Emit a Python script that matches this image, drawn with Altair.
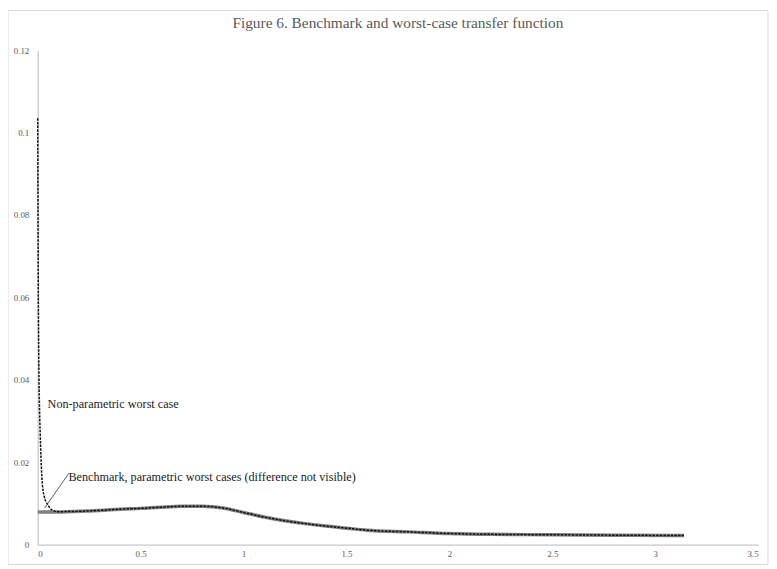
import altair as alt
import pandas as pd

# Benchmark (and parametric worst cases, visually identical)
bench_x = [0.0, 0.1, 0.2, 0.3, 0.4, 0.5, 0.6, 0.7, 0.8, 0.9, 1.0, 1.1, 1.2, 1.3, 1.4,
           1.5, 1.6, 1.8, 2.0, 2.2, 2.5, 2.8, 3.14]
bench_y = [0.0079, 0.0079, 0.0081, 0.0083, 0.0086, 0.0088, 0.0091, 0.0093, 0.0093, 0.0089,
           0.0078, 0.0067, 0.0058, 0.0051, 0.0045, 0.0040, 0.0035, 0.0031, 0.0027, 0.0025,
           0.0024, 0.0023, 0.0022]

# Non-parametric worst case near zero frequency (then follows benchmark)
np_x_low = [0.0, 0.001, 0.003, 0.005, 0.008, 0.012, 0.016, 0.02, 0.03, 0.05, 0.07, 0.1]
np_y_low = [0.1035, 0.085, 0.060, 0.046, 0.035, 0.027, 0.021, 0.0165, 0.0120, 0.0096, 0.0084, 0.0080]

x_ticks = [0, 0.5, 1, 1.5, 2, 2.5, 3, 3.5]
y_ticks = [0, 0.02, 0.04, 0.06, 0.08, 0.1, 0.12]

title = "Figure 6. Benchmark and worst-case transfer function"
label_np = "Non-parametric worst case"
label_bench = "Benchmark, parametric worst cases (difference not visible)"
label_np_pos = (0.048, 0.0341)
label_bench_pos = (0.149, 0.0164)
leader = (0.151, 0.0173, 0.034, 0.0089)

bench_df = pd.DataFrame({"x": bench_x, "y": bench_y})
np_df = pd.DataFrame({
    "x": np_x_low + [v for v in bench_x if v > 0.1],
    "y": np_y_low + [b for v, b in zip(bench_x, bench_y) if v > 0.1],
})
text_df = pd.DataFrame({
    "x": [label_np_pos[0], label_bench_pos[0]],
    "y": [label_np_pos[1], label_bench_pos[1]],
    "t": [label_np, label_bench],
})
leader_df = pd.DataFrame({"x": [leader[0]], "y": [leader[1]], "x2": [leader[2]], "y2": [leader[3]]})

W, H = 727, 499
FONT = "Liberation Serif"

xs = alt.Scale(domain=[0, 3.5], nice=False)
ys = alt.Scale(domain=[0, 0.12], nice=False)

xaxis = alt.Axis(values=x_ticks, format="~g", title=None, grid=False, ticks=False,
                 labelPadding=5, labelFont=FONT, labelFontSize=9, labelColor="#595959",
                 domainColor="#c8c8c8", domainWidth=1.3)
yaxis = alt.Axis(values=y_ticks, format="~g", title=None, grid=False, ticks=False,
                 labelPadding=9, labelFont=FONT, labelFontSize=9, labelColor="#595959",
                 domainColor="#c8c8c8", domainWidth=1.3)

border = alt.Chart(pd.DataFrame({"a": [1]})).mark_rect(
    fill=None, stroke="#d9d9d9", strokeWidth=1
).encode(x=alt.value(-30), x2=alt.value(W + 10), y=alt.value(-40), y2=alt.value(H + 20))

bench = alt.Chart(bench_df).mark_line(color="#808080", strokeWidth=3.5, interpolate="monotone").encode(
    x=alt.X("x:Q", scale=xs, axis=xaxis),
    y=alt.Y("y:Q", scale=ys, axis=yaxis),
)
nonpar = alt.Chart(np_df).mark_line(color="#111111", strokeWidth=1.5, strokeDash=[2.5, 1.2],
                                    interpolate="monotone").encode(
    x=alt.X("x:Q", scale=xs), y=alt.Y("y:Q", scale=ys)
)
texts = alt.Chart(text_df).mark_text(align="left", baseline="middle", font=FONT, fontSize=12.3,
                                     color="#222222").encode(
    x=alt.X("x:Q", scale=xs), y=alt.Y("y:Q", scale=ys), text="t:N"
)
lead = alt.Chart(leader_df).mark_rule(color="#333333", strokeWidth=0.8).encode(
    x=alt.X("x:Q", scale=xs), y=alt.Y("y:Q", scale=ys), x2="x2:Q", y2="y2:Q"
)

chart = alt.layer(border, bench, nonpar, lead, texts).properties(
    width=W, height=H,
    title=alt.TitleParams(title, font=FONT, fontSize=15.5, fontWeight="normal", color="#595959",
                          anchor="middle", offset=-22),
    autosize=alt.AutoSizeParams(type="none"),
    padding={"left": 30, "top": 40, "right": 11, "bottom": 21},
).configure_view(stroke=None)

chart.save("out.html", embed_options={"renderer": "svg", "actions": False})
